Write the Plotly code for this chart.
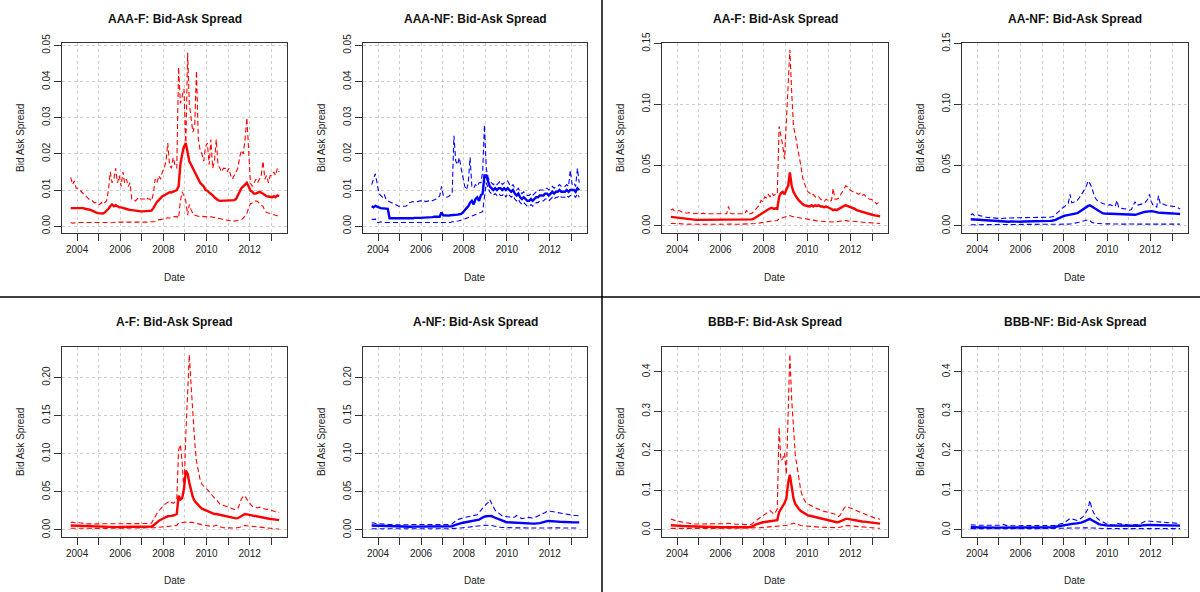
import pandas as pd
import plotly.graph_objects as go

# monthly readings, Sep 2003 .. May 2013 (117 points)
# values below are bid-ask spreads in units of 1e-3
# each row = one calendar year (first row Sep-Dec 2003, last row Jan-May 2013)
DATES = pd.date_range("2003-09-01", periods=117, freq="MS") + pd.Timedelta(days=14)
SCALE = 1e-3

AAA_F_UP = [
    13.5, 11.5, 12.5, 10.5,
    10.5, 10, 9.5, 9, 8.5, 8, 7.5, 7, 7, 6.5, 6.5, 6,
    6, 6.5, 6, 6.5, 7, 10, 15, 12, 13, 16, 12, 14,
    11, 15, 12, 13, 11, 12, 7.5, 7.5, 7, 7.5, 8, 7.5,
    7.5, 7.5, 8, 7.5, 7.5, 7, 9, 13, 12, 14, 13, 15,
    16, 18, 23, 17, 16, 19, 17, 16, 44, 34, 36, 38,
    22, 48, 34, 30, 26, 28, 43, 24, 21, 20, 18, 22,
    23, 17, 24, 16, 18, 24, 17, 16, 15, 16, 16, 15,
    16, 14, 13, 14, 15, 16, 19, 21, 20, 24, 30, 19,
    12, 11, 12, 13, 12, 13, 14, 18, 13, 14, 12, 14,
    14, 15, 14, 16, 15,
]
AAA_F_MED = [
    5, 5, 5.1, 5,
    5, 5, 4.9, 5, 4.8, 4.8, 4.6, 4.5, 4.2, 4, 3.8, 3.6,
    3.5, 3.4, 3.5, 3.8, 4.2, 4.8, 5.5, 6, 5.5, 5.8, 5.5, 5.2,
    5.2, 5, 4.8, 4.8, 4.6, 4.5, 4.4, 4.3, 4.2, 4.1, 4.1, 4.1,
    4.1, 4.1, 4.1, 4.1, 4.1, 4.3, 5, 6, 6.7, 7.2, 7.8, 8.3,
    8.5, 8.8, 9.2, 9.4, 9.3, 9.6, 9.8, 10, 11, 17, 20, 22,
    23, 20, 18, 17, 16, 15, 14, 13, 12, 11.5, 11, 10,
    9.8, 9.3, 9, 8.5, 8, 7.5, 7.2, 7, 7, 7, 7, 7.1,
    7.1, 7, 7, 7.2, 7.5, 8.5, 9.5, 10.5, 11, 11.5, 12, 11,
    9.8, 9.5, 9, 9, 9.3, 9.5, 9.3, 9, 8.5, 8.3, 8.2, 8,
    8, 8.3, 8, 8.5, 8.3,
]
AAA_F_LO = [
    1, 0.8, 0.9, 1,
    0.9, 1, 1, 1, 1.2, 1, 1, 1, 1, 1.1, 1, 1,
    1, 1, 1, 1.1, 1, 0.9, 1, 1, 1, 1.1, 1.1, 1,
    1, 1.1, 1, 0.9, 1, 1, 1.1, 1, 1, 1.1, 1, 1.1,
    1.1, 1, 1, 1.1, 1.2, 1.1, 1.2, 1.3, 1.6, 1.8, 1.8, 2,
    2, 2.2, 2.3, 2.2, 2.5, 2.5, 2.6, 2.7, 2.2, 7, 9.5, 8,
    7, 3, 6, 4.5, 3.5, 3, 2.8, 2.6, 2.6, 2.7, 2.6, 2.5,
    2.6, 2.5, 2.6, 2.5, 2.4, 2.5, 2.3, 2.2, 2, 1.8, 1.7, 1.6,
    1.6, 1.5, 1.6, 1.4, 1.5, 1.6, 1.5, 1.8, 2.2, 2.8, 3.5, 5,
    6.2, 6.4, 6.6, 7, 6.8, 6.2, 5.8, 5.5, 4.2, 3.8, 3.6, 3.5,
    3.3, 3.2, 3, 2.9, 2.7,
]

AAA_NF_UP = [
    11.5, 13, 14.5, 12,
    9, 8.5, 8, 8.8, 7.5, 7, 6.8, 6.5, 6.2, 6, 5.8, 5.5,
    5.5, 5.4, 5.3, 5.5, 5.8, 6.5, 6.6, 6.8, 6.6, 6.8, 7, 7,
    7, 7.2, 6.8, 7, 7, 6.8, 7, 7.2, 7.5, 8, 8.3, 11,
    8.5, 8.3, 8, 8.2, 8.5, 9, 25, 18, 17, 19, 16, 13,
    11, 10, 12, 19, 11, 10.5, 11.5, 11, 12, 12, 15, 28,
    16, 13.5, 12.5, 12, 11.5, 12, 11.5, 12, 12.5, 11.5, 12, 12,
    12.5, 11.5, 11, 11.5, 10.5, 10, 10.5, 9.5, 9, 9.5, 9, 8.5,
    8.5, 9, 8.5, 9, 9.5, 9.5, 10, 10, 10, 10.5, 10.5, 10,
    10.5, 11, 10.5, 11, 11, 11.5, 11, 11, 11, 11.5, 11, 15.5,
    11.5, 12, 11, 16, 12,
]
AAA_NF_MED = [
    5.5, 5.2, 5.6, 5.3,
    5.2, 5, 5, 4.9, 5, 4.8, 2.2, 2.2, 2.2, 2.1, 2, 2,
    2, 2, 2.1, 2, 2, 2.1, 2.2, 2.2, 2.3, 2.2, 2.3, 2.3,
    2.3, 2.4, 2.4, 2.5, 2.4, 2.5, 2.5, 2.6, 2.5, 2.6, 2.6, 3.8,
    3, 2.9, 3, 2.9, 3, 3, 3.1, 3.2, 3.2, 3.3, 3.4, 3.8,
    4.5, 5, 5.5, 6.5, 7, 6, 7.5, 8, 7, 8.5, 9, 14,
    14, 12, 11, 10.5, 10, 10.5, 10, 10.5, 10.5, 10, 10.5, 10,
    10.5, 10, 9.5, 10, 9, 8.5, 9, 8, 7.5, 8, 7.5, 7,
    7, 7.5, 7, 7.5, 8, 8, 8.5, 8.5, 8.5, 9, 9, 8.5,
    9, 9.5, 9, 9.5, 9.5, 10, 9.5, 9.5, 9.5, 10, 9.5, 10,
    10, 10, 9.5, 10.5, 10,
]
AAA_NF_LO = [
    2, 1.8, 2, 1,
    1, 1.2, 1, 1, 1, 1, 1, 0.9, 1, 0.9, 0.9, 1,
    1, 0.9, 1, 1, 0.9, 1, 1, 0.9, 1, 1, 0.9, 1,
    1, 1, 0.9, 1, 1, 1.1, 1, 1, 1.1, 1, 1, 1.1,
    1, 1, 1.1, 1.1, 1, 1.2, 1.2, 1.3, 1.4, 1.5, 1.6, 1.8,
    2, 2.2, 2.5, 2.6, 2.8, 3, 3.2, 3.4, 3.6, 3.8, 4, 8,
    12, 10.5, 9.5, 9, 8.5, 9, 8.5, 9, 8.5, 8.5, 9, 8,
    9, 8.5, 8, 8.5, 7.5, 7, 7.5, 6.5, 6, 6.5, 6, 5.5,
    5.5, 6, 5.5, 6, 6.5, 6.5, 7, 7, 7, 7.5, 7.5, 7,
    7.5, 8, 7.5, 8, 8, 8.5, 8, 8, 8, 8.5, 8, 8.5,
    8.5, 8.5, 8, 9, 8,
]

AA_F_UP = [
    13, 14, 12.5, 12.5,
    12, 12.5, 11.5, 11, 11, 10.5, 11, 10.5, 10, 10, 10.5, 10,
    10, 10, 10.5, 10, 10, 10.5, 10, 10, 10, 10.5, 10, 10,
    10, 10, 10.5, 10, 16, 10.5, 10, 10, 10.5, 10, 10, 10,
    10, 10, 13, 10, 10, 10.5, 12, 14, 15, 17, 21, 20,
    24, 23, 26, 24, 27, 25, 26, 26, 82, 75, 66, 55,
    90, 118, 145, 110, 82, 75, 68, 58, 50, 40, 35, 31,
    28, 27, 25, 26, 24, 23, 24, 22, 21, 20, 22, 21,
    20, 21, 31, 22, 22, 23, 25, 28, 31, 33, 32, 30,
    29, 28, 27, 27, 26, 27, 25, 26, 24, 23, 22, 22,
    21, 20, 18, 19, 18,
]
AA_F_MED = [
    7.5, 7.3, 7.2, 7,
    6.8, 6.7, 6.5, 6.3, 6.2, 6, 5.8, 5.6, 5.4, 5.2, 5, 5,
    5, 4.9, 4.9, 4.8, 4.8, 4.9, 4.9, 4.8, 4.8, 4.9, 4.9, 4.8,
    4.8, 4.9, 4.9, 4.8, 4.8, 4.9, 5, 4.9, 4.9, 5, 5, 5,
    5, 5, 5.1, 5.1, 5.2, 5.4, 6, 7, 7.6, 8.5, 9.5, 10.5,
    12, 13, 14, 14.5, 15, 14, 14.5, 14, 24, 27, 28, 26,
    30, 33, 44, 33, 28, 25, 23, 21, 19, 18, 17, 16.5,
    16.5, 16, 17, 16, 17, 16.5, 17, 16, 16, 15.5, 16, 15.5,
    15, 14, 13, 13.5, 13, 14, 14.5, 15.5, 16.5, 17, 16.5, 16,
    15, 14.5, 14, 13, 12.5, 12, 11.5, 11, 10.5, 10, 9.8, 9.5,
    9, 8.7, 8.5, 8.3, 8,
]
AA_F_LO = [
    2, 2.2, 1.8, 2,
    2, 1.8, 1.5, 1.6, 1.5, 1.4, 1.5, 1.4, 1.3, 1.5, 1.4, 1.3,
    1.3, 1.4, 1.3, 1.4, 1.5, 1.4, 1.3, 1.4, 1.5, 1.4, 1.4, 1.3,
    1.4, 1.5, 1.4, 1.4, 1.5, 1.4, 1.4, 1.5, 1.4, 1.5, 1.5, 1.4,
    1.5, 1.5, 1.4, 1.5, 1.5, 1.6, 1.8, 2, 2.2, 2.5, 2.7, 3,
    3.2, 3.4, 3.6, 3.8, 4, 4.2, 4.4, 4.5, 6, 6.5, 7, 7.5,
    7.8, 8, 8.5, 8, 7.5, 7.2, 7, 6.8, 6.5, 6, 5.8, 5.5,
    5.2, 5, 4.8, 4.6, 4.4, 4.2, 4, 4, 3.8, 3.7, 3.6, 3.5,
    3.4, 3.3, 3.3, 3.4, 3.5, 3.7, 4, 4.3, 4.5, 4.4, 4.2, 4,
    3.8, 3.6, 3.5, 3.4, 3.3, 3.2, 3.1, 3, 2.9, 2.8, 2.6, 2.5,
    2.4, 2.3, 2.2, 2.1, 2,
]

AA_NF_UP = [
    9, 10, 8.5, 9,
    9, 8.5, 8, 7.5, 7.5, 7, 7, 6.8, 6.5, 6.5, 6.3, 6.2,
    6.2, 6, 6.3, 6.2, 6, 6.5, 6.6, 6.5, 6.8, 6.6, 6.7, 6.8,
    6.8, 6.6, 6.8, 7, 6.8, 6.7, 6.8, 7, 6.9, 6.8, 6.7, 6.8,
    6.8, 7, 6.9, 7, 7.2, 7.5, 8, 9.5, 11, 12.5, 14, 15,
    16, 17, 18.5, 26, 19, 19.5, 20, 21, 23, 25, 28, 30,
    33, 37, 35, 32, 27, 23, 21, 20, 19, 18.5, 18, 17.5,
    17, 17.5, 17, 16.5, 16, 21, 15, 14.5, 14.5, 14, 14, 13.5,
    13, 13.5, 17, 20, 17, 17.5, 17.5, 18, 18.5, 20, 22, 26,
    20, 17, 16, 15.5, 25, 18, 18.5, 17.5, 17, 17, 16.5, 16.5,
    16, 16, 15.5, 15, 14,
]
AA_NF_MED = [
    5.5, 5.4, 5.3, 5.2,
    5, 4.9, 4.7, 4.6, 4.5, 4.3, 4.2, 4, 3.9, 3.8, 3.7, 3.6,
    3.5, 3.5, 3.5, 3.5, 3.5, 3.5, 3.6, 3.5, 3.5, 3.6, 3.5, 3.5,
    3.5, 3.6, 3.6, 3.7, 3.7, 3.8, 3.8, 3.9, 3.9, 4, 4, 4,
    4, 4.1, 4.1, 4.2, 4.2, 4.3, 4.5, 5, 5.8, 6.5, 7.2, 8,
    8.4, 8.7, 9, 9.2, 9.5, 9.8, 10.2, 10.5, 11.5, 12.5, 14, 14.5,
    15.5, 16.5, 17, 16, 15, 14, 13, 12, 11, 10.5, 10.3, 10.2,
    10.3, 10.2, 10.3, 10.2, 10.3, 10.2, 10, 10, 9.8, 9.6, 9.5, 9.4,
    9.2, 9, 9, 9.2, 9.5, 9.8, 10.2, 11, 11.5, 11.8, 12, 12.2,
    12.2, 12, 11.5, 11.2, 11, 10.8, 10.8, 10.6, 10.5, 10.4, 10.3, 10.3,
    10.2, 10.1, 10, 9.9, 9.8,
]
AA_NF_LO = [
    1, 1, 1.2, 1,
    1, 1.1, 1, 1, 0.9, 1, 1, 1, 0.9, 1, 1, 1,
    1, 1, 0.9, 1, 1, 1.1, 1, 1, 1, 0.9, 1, 1,
    1, 1, 1.1, 1, 1, 1, 0.9, 1, 1, 1.1, 1, 1,
    1, 1, 1, 1.1, 1, 1, 1.1, 1, 1.1, 1.2, 1.2, 1.2,
    1.2, 1.3, 1.5, 1.6, 1.8, 2, 2.2, 2.5, 3, 3.5, 4, 4.5,
    5, 5, 4.5, 3, 2.5, 2, 2, 2, 1.8, 1.8, 1.7, 1.7,
    1.7, 1.6, 1.6, 1.7, 1.6, 1.6, 1.5, 1.6, 1.5, 1.5, 1.6, 1.5,
    1.5, 1.5, 1.6, 1.5, 1.5, 1.6, 1.7, 1.8, 1.9, 2, 2, 2,
    2, 1.9, 1.9, 1.8, 1.8, 1.8, 1.7, 1.7, 1.7, 1.6, 1.6, 1.6,
    1.6, 1.5, 1.5, 1.5, 1.5,
]

A_F_UP = [
    10, 10.5, 9.5, 10,
    10, 9.5, 9, 9, 8.5, 8, 8, 8, 7.8, 7.8, 7.9, 8,
    7.8, 7.9, 8, 8, 7.9, 8, 8.2, 8.3, 8.5, 8.5, 8.6, 8.7,
    8.7, 8.6, 8.5, 8.7, 8.6, 8.5, 8.4, 8.3, 8.4, 8.3, 8.3, 8.3,
    8.3, 8.2, 8.3, 8.4, 8.5, 9, 14, 19, 22, 25, 28, 30,
    33, 35, 37, 38, 36, 35, 37, 40, 105, 112, 88, 50,
    125, 175, 230, 190, 150, 115, 90, 75, 66, 60, 57, 55,
    53, 50, 48, 45, 42, 40, 37, 34, 33, 32, 31, 31,
    30, 29, 28, 27, 27, 28, 34, 41, 44, 45, 40, 38,
    34, 31, 30, 30, 29, 30, 29, 28, 28, 27, 27, 26,
    26, 25, 24, 24, 23,
]
A_F_MED = [
    5.8, 5.7, 5.6, 5.5,
    5.4, 5.3, 5.2, 5, 5, 4.8, 4.7, 4.6, 4.5, 4.3, 4.2, 4.1,
    4, 4, 3.9, 3.9, 3.8, 3.9, 3.9, 3.8, 3.9, 3.9, 3.8, 3.9,
    3.9, 3.8, 3.9, 3.9, 3.8, 3.9, 3.9, 3.9, 3.8, 3.9, 3.9, 3.9,
    3.9, 3.9, 4, 4, 4.1, 4.5, 6, 8.5, 10, 12, 13.5, 15,
    16.5, 17, 18, 18, 18.5, 19, 19.5, 21, 45, 40, 42, 54,
    78, 74, 62, 50, 43, 38, 35, 32, 30, 28, 27, 25,
    24, 23, 23, 22, 21, 21, 20.5, 20, 19, 18.5, 18, 17.5,
    17.5, 17, 16, 15.5, 15.3, 15.5, 17, 19, 20.5, 21, 20.5, 20,
    19.5, 19, 18.5, 18, 17, 16.8, 16.6, 16, 15.5, 15, 14.6, 14.4,
    14.2, 14, 13.5, 13.2, 13,
]
A_F_LO = [
    2.2, 2.3, 2.2, 2.2,
    2.2, 2.1, 2.2, 2.2, 2.1, 2.2, 2.2, 2.1, 2.2, 2.2, 2.1, 2.2,
    2.2, 2.1, 2.2, 2.2, 2.2, 2.1, 2.2, 2.2, 2.1, 2.2, 2.2, 2.2,
    2.2, 2.2, 2.1, 2.2, 2.2, 2.2, 2.1, 2.2, 2.2, 2.1, 2.2, 2.2,
    2.2, 2.2, 2.2, 2.2, 2.3, 2.3, 2.6, 3, 3.4, 3.8, 4, 4.2,
    4.4, 4.6, 4.8, 5, 5.2, 5.5, 5.8, 6, 9, 9.5, 10, 10,
    10.5, 10, 10, 10.5, 10, 9, 8.5, 8, 7, 6.5, 6, 5.8,
    5.7, 5.2, 4.8, 4.4, 5.5, 6.5, 5, 4, 3.5, 3, 2.8, 2.6,
    2.6, 2.5, 2.5, 2.6, 2.7, 2.8, 3.5, 4.5, 5.5, 5.8, 5.5, 5.2,
    5, 4.8, 4.6, 4.4, 4.2, 4, 3.6, 3.2, 3, 2.8, 2.5, 2.2,
    2, 1.8, 1.6, 1.4, 1.3,
]

A_NF_UP = [
    9, 9.5, 8.5, 8.5,
    8.5, 8, 8, 7.8, 7.6, 7.4, 7.2, 7, 6.8, 6.7, 6.6, 6.5,
    6.5, 6.6, 6.8, 7, 7.2, 7.4, 7.5, 7.4, 7.3, 7.2, 7.2, 7.2,
    7.2, 7.3, 7.4, 7.4, 7.2, 7, 7, 6.9, 6.8, 6.8, 6.8, 6.8,
    6.8, 6.9, 7, 7, 7, 8, 10.5, 12, 13.5, 14.5, 15.5, 16,
    16.5, 17, 18, 18.5, 18.5, 18.5, 19, 20, 23, 26, 29, 32,
    34, 36, 40, 35, 30, 26, 24, 22, 20, 18.5, 18, 17.5,
    17, 16.5, 16.5, 16.5, 17, 19, 17, 15.5, 15, 15.5, 16, 16.5,
    16.5, 16, 15.5, 16, 17, 18, 19, 20, 21, 23, 24.5, 25,
    24.5, 24, 23.5, 23, 23, 22.5, 22, 21, 20.5, 20, 20, 19.5,
    19.5, 19, 19, 18.5, 18.5,
]
A_NF_MED = [
    5.8, 5.7, 5.6, 5.5,
    5.4, 5.3, 5.2, 5, 4.9, 4.8, 4.7, 4.6, 4.6, 4.5, 4.5, 4.4,
    4.4, 4.4, 4.3, 4.4, 4.4, 4.4, 4.3, 4.4, 4.4, 4.4, 4.3, 4.4,
    4.4, 4.3, 4.4, 4.4, 4.4, 4.3, 4.4, 4.4, 4.4, 4.3, 4.4, 4.4,
    4.4, 4.4, 4.5, 4.5, 4.6, 5, 6, 7, 7.8, 8.5, 9, 9.5,
    10, 10.5, 11, 11.3, 11.6, 12, 12.2, 12.5, 13.5, 15, 16.5, 17.5,
    18, 18.5, 19, 18.5, 17, 16, 14.5, 13.5, 12.5, 11.5, 11, 10.5,
    10.2, 10, 10, 10, 10, 10, 9.8, 9.5, 9.2, 9, 8.8, 8.7,
    8.6, 8.5, 8.4, 8.3, 8.3, 8.5, 9, 9.6, 10.5, 11.2, 11.7, 11.8,
    11.8, 11.6, 11.4, 11.2, 11, 10.8, 10.6, 10.5, 10.4, 10.3, 10.2, 10.1,
    10, 10, 10, 10, 10,
]
A_NF_LO = [
    1.7, 1.8, 1.7, 1.7,
    1.7, 1.7, 1.6, 1.7, 1.7, 1.7, 1.6, 1.7, 1.7, 1.7, 1.7, 1.6,
    1.7, 1.7, 1.7, 1.6, 1.7, 1.7, 1.7, 1.6, 1.7, 1.7, 1.7, 1.7,
    1.7, 1.6, 1.7, 1.7, 1.7, 1.7, 1.6, 1.7, 1.7, 1.7, 1.7, 1.7,
    1.7, 1.7, 1.7, 1.7, 1.7, 1.7, 1.8, 2, 2.3, 2.5, 2.7, 2.9,
    3, 3.2, 3.4, 3.7, 3.9, 4.1, 4.3, 4.6, 5.2, 5.7, 6, 6.3,
    6.5, 6.5, 6.3, 5.8, 5.2, 4.6, 4.1, 3.8, 3.5, 3.3, 3.1, 3,
    3, 2.9, 2.9, 2.8, 2.8, 2.8, 2.7, 2.7, 2.7, 2.6, 2.6, 2.6,
    2.6, 2.6, 2.6, 2.6, 2.6, 2.6, 2.6, 2.7, 2.7, 2.8, 2.9, 3,
    3, 3, 2.9, 2.9, 2.8, 2.8, 2.7, 2.7, 2.6, 2.6, 2.6, 2.6,
    2.6, 2.6, 2.6, 2.6, 2.6,
]

BBB_F_UP = [
    28, 26, 24, 23,
    22, 21, 20, 19, 18, 17, 16.5, 16, 15.5, 15, 15, 15,
    15, 14.5, 15, 15, 15.5, 15, 14.5, 15, 15, 15.5, 15, 15,
    15, 14.5, 15, 16, 17, 16, 15.5, 15, 14.5, 14.5, 14, 14,
    14, 14, 13.5, 13.5, 14, 15, 19, 23, 27, 30, 33, 36,
    38, 42, 46, 49, 45, 40, 45, 53, 260, 175, 180, 195,
    140, 330, 445, 330, 250, 190, 160, 130, 100, 85, 75, 68,
    66, 63, 61, 58, 56, 54, 52, 50, 49, 47, 46, 45,
    44, 42, 41, 40, 37, 34, 38, 48, 55, 60, 58, 56,
    55, 53, 50, 48, 46, 44, 42, 41, 40, 38, 36, 34,
    32, 30, 29, 28, 27,
]
BBB_F_MED = [
    12, 11.5, 11, 10.8,
    10.5, 10.2, 10, 9.8, 9.6, 9.4, 9.2, 9, 8.6, 8.2, 7.9, 7.7,
    7.6, 7.5, 7.4, 7.3, 7.2, 7.2, 7.1, 7, 7, 6.9, 6.9, 6.8,
    6.8, 6.8, 6.7, 6.7, 6.7, 6.6, 6.7, 6.7, 6.6, 6.7, 6.7, 6.7,
    6.7, 6.7, 6.8, 7, 7.5, 8.5, 11, 13.5, 15.5, 17, 18.5, 19.5,
    20, 21, 22, 23, 23.5, 24, 24.5, 25, 45, 52, 58, 68,
    80, 120, 140, 104, 80, 66, 58, 53, 48, 45, 42, 39,
    37, 36, 35, 33, 32, 30, 29.5, 28.5, 27.5, 26.5, 25, 24,
    23.5, 22.5, 21.5, 20.5, 19.5, 20, 22, 25, 27, 28, 28, 27,
    26.5, 26, 25, 24, 23, 22, 21.5, 21, 20.5, 19.5, 18.5, 18,
    17.7, 17.3, 17, 16.5, 16,
]
BBB_F_LO = [
    4, 4.5, 4.2, 4,
    4, 4.1, 4, 3.9, 4, 4, 4.1, 4, 4, 3.9, 4, 4,
    4, 4, 4.1, 4, 3.9, 4, 4, 4.1, 4, 4, 3.9, 4,
    4, 4.1, 4, 4, 4, 3.9, 4, 4, 4.1, 4, 4, 4,
    4, 4, 4, 4.2, 4.3, 4.5, 4.8, 5, 5.3, 5.6, 6, 6.4,
    6.7, 7, 7.5, 8, 8.5, 9, 9.3, 9.6, 10, 10.5, 11, 11,
    11.5, 12, 14, 15, 17, 16, 14, 12.6, 11.5, 10.8, 10.2, 9.7,
    9.3, 9, 8.7, 8.4, 8, 7.6, 7.3, 7, 6.7, 6.4, 6.1, 5.9,
    5.9, 5.8, 5.8, 5.8, 5.9, 6.2, 7.5, 9, 10.5, 11, 11, 10.5,
    10, 9.5, 9.3, 9, 8.5, 8, 7.3, 6.6, 6.2, 5.9, 5.5, 5.2,
    5, 4.8, 4.5, 4.3, 4.2,
]

BBB_NF_UP = [
    13, 12, 12.5, 12,
    12, 11.5, 11.5, 11, 11, 11, 11, 11, 10.8, 10.8, 11, 11,
    11, 12, 14, 12, 11, 10.8, 10.8, 10.6, 10.6, 10.5, 10.5, 10.5,
    10.5, 10.5, 10.3, 10.3, 10.2, 10.2, 10, 10, 9.8, 9.8, 9.6, 9.5,
    9.5, 9.4, 9.3, 9.3, 9.5, 10, 11, 12, 13, 14, 15, 17,
    19, 22, 26, 29, 28, 26, 24, 24, 26, 29, 33, 38,
    45, 55, 75, 55, 44, 36, 30, 26, 23, 20, 17, 15.5,
    15, 14, 13, 12.5, 13, 17.5, 16, 15, 14, 13.5, 13, 12.8,
    12.6, 12.5, 12.5, 12.6, 13, 14, 16, 18.5, 21, 22.5, 22.7, 22.5,
    22.3, 22, 21.5, 21, 20.5, 20, 19.5, 19.2, 19, 18.5, 18, 17.7,
    17.5, 17.3, 17, 17, 16.8,
]
BBB_NF_MED = [
    7, 6.8, 6.7, 6.6,
    6.5, 6.4, 6.3, 6.2, 6.1, 6, 6, 6, 6, 5.9, 5.9, 5.9,
    5.9, 6, 5.9, 6, 6, 5.9, 5.9, 6, 5.9, 6, 6, 5.9,
    5.9, 6, 6, 5.9, 6, 6, 5.9, 6, 6, 5.9, 6, 6,
    6, 6, 6, 6, 6.1, 6.3, 7, 8, 9, 10, 11, 12,
    12.6, 13.5, 14.5, 15, 15.5, 16, 16, 16.5, 17.5, 18.5, 20, 22,
    24, 26, 28, 25, 22, 19.5, 17, 15, 13.5, 12.5, 11.5, 11,
    11, 11, 11, 11, 11, 11, 10.8, 10.5, 10.2, 10, 9.7, 9.5,
    9.3, 9.3, 9.3, 9.3, 9.4, 9.8, 10.5, 11.5, 12.3, 12.6, 12.6, 12.5,
    12.3, 12.1, 12, 11.8, 11.6, 11.5, 11.3, 11.2, 11.1, 11, 11, 11,
    11, 11, 11, 11, 11,
]
BBB_NF_LO = [
    3.4, 3.5, 3.4, 3.4,
    3.4, 3.3, 3.4, 3.4, 3.5, 3.4, 3.4, 3.3, 3.4, 3.4, 3.4, 3.5,
    3.4, 3.4, 3.3, 3.4, 3.4, 3.5, 3.4, 3.4, 3.4, 3.3, 3.4, 3.4,
    3.4, 3.5, 3.4, 3.4, 3.3, 3.4, 3.4, 3.4, 3.5, 3.4, 3.4, 3.4,
    3.4, 3.4, 3.3, 3.4, 3.4, 3.4, 3.4, 3.5, 3.4, 3.5, 3.5, 3.5,
    3.6, 3.8, 4, 4.2, 4.4, 4.6, 4.8, 5, 5.2, 5.4, 5.6, 5.8,
    6, 6.2, 6, 5.6, 5, 4.6, 4.2, 3.9, 3.7, 3.6, 3.5, 3.5,
    3.5, 3.4, 3.4, 3.5, 3.5, 3.6, 3.5, 3.5, 3.4, 3.4, 3.4, 3.4,
    3.4, 3.4, 3.4, 3.4, 3.5, 3.5, 3.6, 3.8, 4, 4.1, 4.1, 4,
    4, 3.9, 3.9, 3.8, 3.8, 3.7, 3.7, 3.6, 3.6, 3.6, 3.5, 3.5,
    3.5, 3.5, 3.4, 3.4, 3.4,
]

# axis settings per rating class: (range, tick step, tick format)
Y_AAA = ([-0.0019, 0.0507], 0.01, ".2f")
Y_AA = ([-0.0058, 0.1505], 0.05, ".2f")
Y_A = ([-0.0092, 0.2402], 0.05, ".2f")
Y_BBB = ([-0.0178, 0.463], 0.1, ".1f")

PANELS = [
    ("AAA-F: Bid-Ask Spread", AAA_F_UP, AAA_F_MED, AAA_F_LO, "red", Y_AAA),
    ("AAA-NF: Bid-Ask Spread", AAA_NF_UP, AAA_NF_MED, AAA_NF_LO, "blue", Y_AAA),
    ("AA-F: Bid-Ask Spread", AA_F_UP, AA_F_MED, AA_F_LO, "red", Y_AA),
    ("AA-NF: Bid-Ask Spread", AA_NF_UP, AA_NF_MED, AA_NF_LO, "blue", Y_AA),
    ("A-F: Bid-Ask Spread", A_F_UP, A_F_MED, A_F_LO, "red", Y_A),
    ("A-NF: Bid-Ask Spread", A_NF_UP, A_NF_MED, A_NF_LO, "blue", Y_A),
    ("BBB-F: Bid-Ask Spread", BBB_F_UP, BBB_F_MED, BBB_F_LO, "red", Y_BBB),
    ("BBB-NF: Bid-Ask Spread", BBB_NF_UP, BBB_NF_MED, BBB_NF_LO, "blue", Y_BBB),
]

YEAR_TICKS = [f"{y}-01-01" for y in range(2004, 2014)]
YEAR_TEXT = [str(y) if y % 2 == 0 else "" for y in range(2004, 2014)]

for p in PANELS:
    for s in p[1:4]:
        assert len(s) == len(DATES), (p[0], len(s))

W, H = 1200, 592
COL_PX = [(62, 287), (363, 587), (662, 888), (962, 1188)]
ROW_PX = [(43, 233), (347, 537)]
TITLE_Y = [19, 322]
XLAB_Y = [277, 580]
FONT = "Liberation Sans, Arial, sans-serif"

fig = go.Figure()
annotations = []

for i, (title, up, med, lo, color, yset) in enumerate(PANELS):
    r, c = divmod(i, 4)
    n = i + 1
    xa = "x" if n == 1 else f"x{n}"
    ya = "y" if n == 1 else f"y{n}"
    x0, x1 = COL_PX[c]
    y0, y1 = ROW_PX[r]

    for vals, dash, lw in ((up, "5px,3px", 1.1), (lo, "5px,3px", 1.1), (med, "solid", 2.4)):
        fig.add_trace(go.Scatter(
            x=DATES, y=[v * SCALE for v in vals], mode="lines",
            line=dict(color=color, width=lw, dash=dash),
            xaxis=xa, yaxis=ya, showlegend=False, hoverinfo="skip"))

    common = dict(showline=True, linecolor="#333", linewidth=1, mirror=True,
                  ticks="outside", ticklen=7, tickcolor="#333", automargin=False,
                  showgrid=True, gridcolor="#cfcfcf", griddash="dot", gridwidth=1,
                  zeroline=False, tickfont=dict(family=FONT, size=10, color="#222"))
    yrange, dtick, fmt = yset
    fig.layout[xa.replace("x", "xaxis")] = dict(
        common, domain=[x0 / W, x1 / W], anchor=ya, type="date",
        range=["2003-04-20", "2013-09-25"],
        tickmode="array", tickvals=YEAR_TICKS, ticktext=YEAR_TEXT)
    fig.layout[ya.replace("y", "yaxis")] = dict(
        common, domain=[1 - y1 / H, 1 - y0 / H], anchor=xa,
        range=yrange, tickmode="linear", tick0=0, dtick=dtick,
        tickformat=fmt, tickangle=-90)

    cx = (x0 + x1) / 2 / W
    annotations.append(dict(text=f"<b>{title}</b>", x=cx, y=1 - TITLE_Y[r] / H,
                            xanchor="center", yanchor="middle",
                            xref="paper", yref="paper", showarrow=False,
                            font=dict(family=FONT, size=12, color="#111")))
    annotations.append(dict(text="Date", x=cx, y=1 - XLAB_Y[r] / H,
                            xanchor="center", yanchor="middle",
                            xref="paper", yref="paper", showarrow=False,
                            font=dict(family=FONT, size=10, color="#222")))
    annotations.append(dict(text="Bid Ask Spread", x=(x0 - 42) / W,
                            y=1 - (y0 + y1) / 2 / H, textangle=-90,
                            xanchor="center", yanchor="middle",
                            xref="paper", yref="paper", showarrow=False,
                            font=dict(family=FONT, size=10, color="#222")))

fig.update_layout(
    width=W, height=H, margin=dict(l=0, r=0, t=0, b=0, autoexpand=False),
    paper_bgcolor="white", plot_bgcolor="white",
    annotations=annotations,
    shapes=[
        dict(type="line", xref="paper", yref="paper", x0=602 / W, x1=602 / W,
             y0=0, y1=1, line=dict(color="black", width=1.5)),
        dict(type="line", xref="paper", yref="paper", x0=0, x1=1,
             y0=1 - 297 / H, y1=1 - 297 / H, line=dict(color="black", width=1.5)),
    ],
)

# pin the graph div to the window's top-left corner (no default body margin)
PIN = ("document.body.style.margin='0';"
       "var d=document.getElementById('{plot_id}');"
       "d.style.position='absolute';d.style.left='0';d.style.top='0';")
fig.write_html("out.html", post_script=PIN, config={"displayModeBar": False})
